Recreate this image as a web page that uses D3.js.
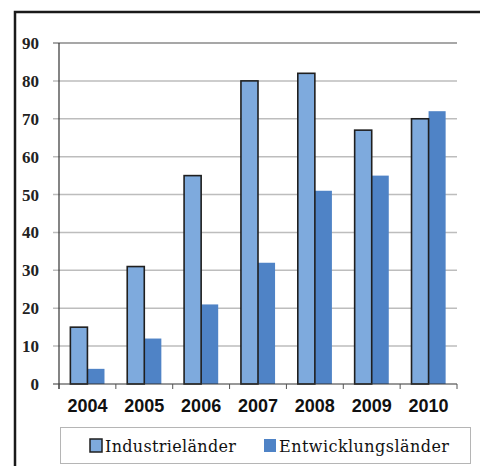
<!DOCTYPE html>
<html>
<head>
<meta charset="utf-8">
<script src="https://cdn.jsdelivr.net/npm/d3@7"></script>
<style>
  body { margin: 0; background: #fff; }
  svg { display: block; }
</style>
</head>
<body>
<div id="chart"></div>
<script>
const years = ["2004", "2005", "2006", "2007", "2008", "2009", "2010"];
const industrie = [15, 31, 55, 80, 82, 67, 70];
const entwicklung = [4, 12, 21, 32, 51, 55, 72];
const seriesNames = ["Industrieländer", "Entwicklungsländer"];
const yTicks = [0, 10, 20, 30, 40, 50, 60, 70, 80, 90];

const width = 480, height = 466;
const margin = { top: 43, right: 23, bottom: 82, left: 59 };

const svg = d3.select("#chart").append("svg")
    .attr("width", width)
    .attr("height", height);

// outer frame (left + top only visible)
svg.append("path")
    .attr("d", "M15,466 L15,12 L480,12")
    .attr("fill", "none")
    .attr("stroke", "#1a1a1a")
    .attr("stroke-width", 2.5);

const x = d3.scaleBand()
    .domain(years)
    .range([margin.left, width - margin.right])
    .paddingInner(0.4)
    .paddingOuter(0.2);

const y = d3.scaleLinear()
    .domain([0, 90])
    .range([height - margin.bottom, margin.top]);

// gridlines
svg.append("g")
    .selectAll("line")
    .data(yTicks.filter(d => d > 0))
    .join("line")
    .attr("x1", margin.left - 6)
    .attr("x2", width - margin.right)
    .attr("y1", d => y(d))
    .attr("y2", d => y(d))
    .attr("stroke", d => d === 90 ? "#8a8a8a" : "#bdbdbd")
    .attr("stroke-width", 1.5);

// y labels
svg.append("g")
    .selectAll("text")
    .data(yTicks)
    .join("text")
    .attr("x", 39)
    .attr("y", d => y(d))
    .attr("dy", "0.35em")
    .attr("text-anchor", "end")
    .attr("font-family", "'Liberation Serif', 'DejaVu Serif', serif")
    .attr("font-weight", "bold")
    .attr("font-size", 17)
    .attr("fill", "#222")
    .text(d => d);

const sub = d3.scaleBand()
    .domain(seriesNames)
    .range([0, x.bandwidth()]);

const colors = ["#7eaadd", "#4f83c6"];

const groups = svg.append("g")
    .selectAll("g")
    .data(years)
    .join("g")
    .attr("transform", d => `translate(${x(d)},0)`);

// Entwicklungsländer bars (no outline)
groups.append("rect")
    .attr("x", sub(seriesNames[1]))
    .attr("width", sub.bandwidth())
    .attr("y", (d, i) => y(entwicklung[i]))
    .attr("height", (d, i) => y(0) - y(entwicklung[i]))
    .attr("fill", colors[1]);

// Industrieländer bars (dark outline)
groups.append("rect")
    .attr("x", sub(seriesNames[0]))
    .attr("width", sub.bandwidth())
    .attr("y", (d, i) => y(industrie[i]))
    .attr("height", (d, i) => y(0) - y(industrie[i]))
    .attr("fill", colors[0])
    .attr("stroke", "#1f1f1f")
    .attr("stroke-width", 1.6);

// y axis line
svg.append("line")
    .attr("x1", margin.left).attr("x2", margin.left)
    .attr("y1", y(90)).attr("y2", y(0) + 5)
    .attr("stroke", "#333").attr("stroke-width", 1.2);

// x axis line + category ticks
svg.append("line")
    .attr("x1", margin.left - 6).attr("x2", width - margin.right)
    .attr("y1", y(0)).attr("y2", y(0))
    .attr("stroke", "#333").attr("stroke-width", 1.2);

const step = x.step();
const bounds = years.map((d, i) => x(d) - x.paddingInner() * step / 2).concat([width - margin.right]);
svg.append("g")
    .selectAll("line")
    .data(bounds)
    .join("line")
    .attr("x1", d => d).attr("x2", d => d)
    .attr("y1", y(0)).attr("y2", y(0) + 5)
    .attr("stroke", "#555").attr("stroke-width", 1);

// x labels
svg.append("g")
    .selectAll("text")
    .data(years)
    .join("text")
    .attr("x", d => x(d) + x.bandwidth() / 2)
    .attr("y", 412)
    .attr("text-anchor", "middle")
    .attr("font-family", "'Liberation Sans', Arial, sans-serif")
    .attr("font-weight", "bold")
    .attr("font-size", 18)
    .attr("fill", "#111")
    .text(d => d);

// legend
const legend = svg.append("g");
legend.append("rect")
    .attr("x", 60.5).attr("y", 427.5)
    .attr("width", 410).attr("height", 36)
    .attr("fill", "#fff")
    .attr("stroke", "#b5b5b5");

const legendItems = [
    { name: seriesNames[0], x: 90, color: colors[0], outline: true, len: 131 },
    { name: seriesNames[1], x: 264, color: colors[1], outline: false, len: 170 }
];
const li = legend.selectAll("g.item")
    .data(legendItems)
    .join("g")
    .attr("class", "item")
    .attr("transform", d => `translate(${d.x},439)`);
li.append("rect")
    .attr("width", 12).attr("height", 13)
    .attr("fill", d => d.color)
    .attr("stroke", d => d.outline ? "#1f1f1f" : "none")
    .attr("stroke-width", 1.5);
li.append("text")
    .attr("x", 15)
    .attr("y", 12.5)
    .attr("font-family", "'DejaVu Serif', 'Liberation Serif', serif")
    .attr("font-size", 16)
    .attr("textLength", d => d.len)
    .attr("lengthAdjust", "spacing")
    .attr("fill", "#111")
    .text(d => d.name);
</script>
</body>
</html>
